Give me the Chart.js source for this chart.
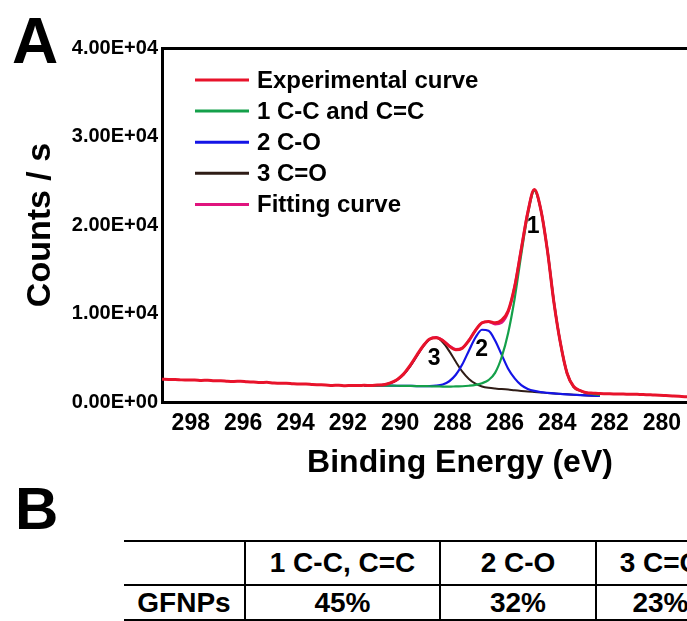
<!DOCTYPE html>
<html>
<head>
<meta charset="utf-8">
<title>C1s XPS spectrum - GFNPs</title>
<script src="https://cdn.jsdelivr.net/npm/chart.js"></script>
<style>
  html, body { margin: 0; padding: 0; background: #fff; }
  body { width: 687px; height: 621px; overflow: hidden; position: relative;
         font-family: 'Liberation Sans', Arial, sans-serif; font-weight: bold; color: #000; }
  #xps { position: absolute; left: 0; top: 0; }
  .panel { position: absolute; margin: 0; }
  #tagA { left: 12px; top: 9px; font-size: 64px; line-height: 64px; }
  #tagB { left: 15px; top: 479px; font-size: 60px; line-height: 60px; }
  #tbl { position: absolute; left: 124px; top: 540px; border-collapse: collapse; font-size: 28px;
         table-layout: fixed; width: 600px; }
  #tbl td { border-top: 2px solid #000; border-bottom: 2px solid #000; border-left: 2px solid #000;
            padding: 0; text-align: center; white-space: nowrap; overflow: visible; }
  #tbl td:first-child { border-left: none; }
  #tbl tr.head td { height: 42px; }
  #tbl tr.row td { height: 33px; }
</style>
</head>
<body>
<canvas id="xps" width="758" height="490"></canvas>
<div class="panel" id="tagA">A</div>
<div class="panel" id="tagB">B</div>
<table id="tbl"></table>
<script>
// experimental C1s spectrum (binding energy in eV, counts/s)
const expEnergy = [299.1, 298.85, 298.6, 298.35, 298.1, 297.85, 297.6, 297.35, 297.1, 296.85,
  296.6, 296.35, 296.1, 295.85, 295.6, 295.35, 295.1, 294.85, 294.6, 294.35,
  294.1, 293.85, 293.6, 293.35, 293.1, 292.85, 292.6, 292.35, 292.1, 291.85, 291.6,
  291.375, 291.125, 290.875, 290.625, 290.375, 290.125, 289.875, 289.625, 289.375, 289.125,
  288.875, 288.625, 288.375, 288.125, 287.875, 287.625, 287.375, 287.125, 286.875, 286.625,
  286.375, 286.125, 285.875, 285.625, 285.375, 285.125, 284.875, 284.625, 284.375, 284.125,
  283.875, 283.625, 283.375, 283.125, 282.875, 282.625, 282.375,
  282.1, 281.85, 281.6, 281.35, 281.1, 280.85, 280.6, 280.35, 280.1, 279.85, 279.6, 279.35, 279.04,
  278.8, 278.5];
const expCounts = [2570, 2540, 2555, 2500, 2480, 2490, 2440, 2450, 2390, 2400,
  2350, 2330, 2340, 2280, 2260, 2210, 2220, 2150, 2110, 2130,
  2060, 2020, 2040, 1980, 1950, 1920, 1870, 1890, 1850, 1870, 1860,
  1880, 1860, 1910, 1950, 2150, 2520, 3150, 4120, 5250, 6330,
  7120, 7250, 6950, 6300, 5900, 6080, 6950, 8100, 8950, 9100,
  8950, 9250, 10300, 13070, 17250, 21400, 24000, 21700, 17100, 11200,
  6600, 3250, 1750, 1300, 1050, 1000, 950,
  940, 910, 915, 880, 885, 850, 830, 800, 770, 730, 690, 650, 600,
  580, 560];

// fitted components (fit window)
const fitEnergy = [291.375, 291.125, 290.875, 290.625, 290.375, 290.125, 289.875, 289.625, 289.375, 289.125,
  288.875, 288.625, 288.375, 288.125, 287.875, 287.625, 287.375, 287.125, 286.875, 286.625,
  286.375, 286.125, 285.875, 285.625, 285.375, 285.125, 284.875, 284.625, 284.375, 284.125,
  283.875, 283.625, 283.375, 283.125, 282.875, 282.625, 282.375];
const ccCounts = [1865, 1860, 1855, 1845, 1840, 1835, 1825, 1815, 1805, 1795,
  1780, 1765, 1745, 1730, 1765, 1780, 1835, 1930, 2120, 2475,
  3290, 5055, 7800, 11720, 16655, 21200, 23840, 21680, 17120, 11265,
  6615, 3265, 1720, 1280, 1025, 895, 810];
const coCounts = [1865, 1860, 1855, 1845, 1840, 1835, 1825, 1815, 1805, 1800,
  1801, 1841, 1980, 2345, 3074, 4259, 5798, 7287, 8165, 8044,
  6959, 5355, 3764, 2670, 1905, 1480, 1250, 1120, 1035, 965,
  915, 865, 820, 780, 745, 715, 690];
const cdoCounts = [1868, 1872, 1895, 1961, 2133, 2489, 3107, 4027, 5164, 6289,
  7071, 7248, 6747, 5746, 4544, 3436, 2602, 2067, 1758, 1599,
  1514, 1462, 1400, 1320, 1255, 1200, 1140, 1080, 1020, 965,
  915, 865, 820, 780, 745, 715, 690];
const fitCounts = [1868, 1872, 1895, 1961, 2133, 2489, 3107, 4027, 5164, 6294,
  7092, 7324, 6982, 6361, 5973, 6135, 6965, 8084, 8923, 9068,
  8783, 8962, 10164, 13070, 17305, 21480, 23950, 21720, 17135, 11265,
  6615, 3265, 1720, 1280, 1025, 895, 810];

const seriesNames = ['Experimental curve', '1 C-C and C=C', '2 C-O', '3 C=O', 'Fitting curve'];
const xTicks = [280, 282, 284, 286, 288, 290, 292, 294, 296, 298];
const yTicks = [0, 10000, 20000, 30000, 40000];
const yTickLabels = ['0.00E+00', '1.00E+04', '2.00E+04', '3.00E+04', '4.00E+04'];

// peak numbers written on the curves
const peakNames = ['1', '2', '3'];
const peakEnergy = [284.92, 286.89, 288.70];
const peakCounts = [19800, 5870, 4930];

// table B
const tableHeads = ['', '1 C-C, C=C', '2 C-O', '3 C=O'];
const tableRow = ['GFNPs', '45%', '32%', '23%'];

const FONT = "'Liberation Sans', Arial, sans-serif";

const pts = (xs, ys) => xs.map((x, i) => ({ x: x, y: ys[i] }));

function line(label, xs, ys, color, width) {
  return {
    label: label, data: pts(xs, ys), borderColor: color, backgroundColor: color,
    borderWidth: width, pointRadius: 0, fill: false, cubicInterpolationMode: 'monotone'
  };
}

const insetLegend = {
  id: 'insetLegend',
  afterDatasetsDraw(chart) {
    const ctx = chart.ctx, a = chart.chartArea;
    ctx.save();
    ctx.font = 'bold 24px ' + FONT;
    ctx.textBaseline = 'middle';
    ctx.textAlign = 'left';
    chart.data.datasets.forEach((ds, i) => {
      const y = a.top + 32 + i * 31.1;
      ctx.strokeStyle = ds.borderColor;
      ctx.lineWidth = 3;
      ctx.beginPath();
      ctx.moveTo(a.left + 33, y);
      ctx.lineTo(a.left + 87, y);
      ctx.stroke();
      ctx.fillStyle = '#000';
      ctx.fillText(ds.label, a.left + 95, y + 1);
    });
    // peak numbers
    ctx.font = 'bold 23px ' + FONT;
    ctx.textAlign = 'center';
    const sx = chart.scales.x, sy = chart.scales.y;
    peakNames.forEach((t, i) => {
      ctx.fillText(t, sx.getPixelForValue(peakEnergy[i]), sy.getPixelForValue(peakCounts[i]));
    });
    ctx.restore();
  }
};

const xMin = 276.33, xMax = 299.1;

new Chart(document.getElementById('xps'), {
  type: 'line',
  data: {
    datasets: [
      line(seriesNames[0], expEnergy, expCounts, '#e8132b', 3),
      line(seriesNames[1], fitEnergy, ccCounts, '#14a04a', 2.2),
      line(seriesNames[2], fitEnergy, coCounts, '#1414e6', 2.2),
      line(seriesNames[3], fitEnergy, cdoCounts, '#2e1c16', 2),
      line(seriesNames[4], fitEnergy, fitCounts, '#e0147e', 2.5)
    ]
  },
  options: {
    responsive: false,
    animation: false,
    layout: { padding: 0 },
    plugins: { legend: { display: false }, tooltip: { enabled: false } },
    scales: {
      x: {
        type: 'linear', position: 'bottom', reverse: true, min: xMin, max: xMax,
        afterBuildTicks: s => { s.ticks = xTicks.map(v => ({ value: v })); },
        afterFit: s => { s.height = 88; },
        grid: { display: false, drawTicks: false },
        border: { display: true, color: '#000', width: 3 },
        ticks: { color: '#000', padding: 8, maxRotation: 0, autoSkip: false,
                 font: { family: FONT, size: 23, weight: 'bold' } },
        title: { display: true, text: 'Binding Energy (eV)', color: '#000',
                 font: { family: FONT, size: 32, weight: 'bold' }, padding: { top: 0, bottom: 8 } }
      },
      top: {
        type: 'linear', position: 'top', reverse: true, min: xMin, max: xMax,
        afterFit: s => { s.height = 48; },
        grid: { display: false, drawTicks: false },
        border: { display: true, color: '#000', width: 3 },
        ticks: { display: false }
      },
      y: {
        type: 'linear', position: 'left', min: 0, max: 40000,
        afterBuildTicks: s => { s.ticks = yTicks.map(v => ({ value: v })); },
        afterFit: s => { s.width = 162; },
        grid: { display: false, drawTicks: false },
        border: { display: true, color: '#000', width: 3 },
        ticks: { color: '#000', padding: 4, callback: (v, i) => yTickLabels[i],
                 font: { family: FONT, size: 20, weight: 'bold' } },
        title: { display: true, text: 'Counts / s', color: '#000',
                 font: { family: FONT, size: 34, weight: 'bold' }, padding: { top: 20, bottom: 0 } }
      }
    }
  },
  plugins: [insetLegend]
});

// table B
const tbl = document.getElementById('tbl');
const colWidths = [121, 195, 156, 128];
const colgroup = document.createElement('colgroup');
colWidths.forEach(w => {
  const c = document.createElement('col');
  c.style.width = w + 'px';
  colgroup.appendChild(c);
});
tbl.appendChild(colgroup);
const head = document.createElement('tr');
head.className = 'head';
tableHeads.forEach(t => {
  const td = document.createElement('td');
  td.textContent = t;
  head.appendChild(td);
});
const row = document.createElement('tr');
row.className = 'row';
tableRow.forEach(t => {
  const td = document.createElement('td');
  td.textContent = t;
  row.appendChild(td);
});
tbl.appendChild(head);
tbl.appendChild(row);
</script>
</body>
</html>
